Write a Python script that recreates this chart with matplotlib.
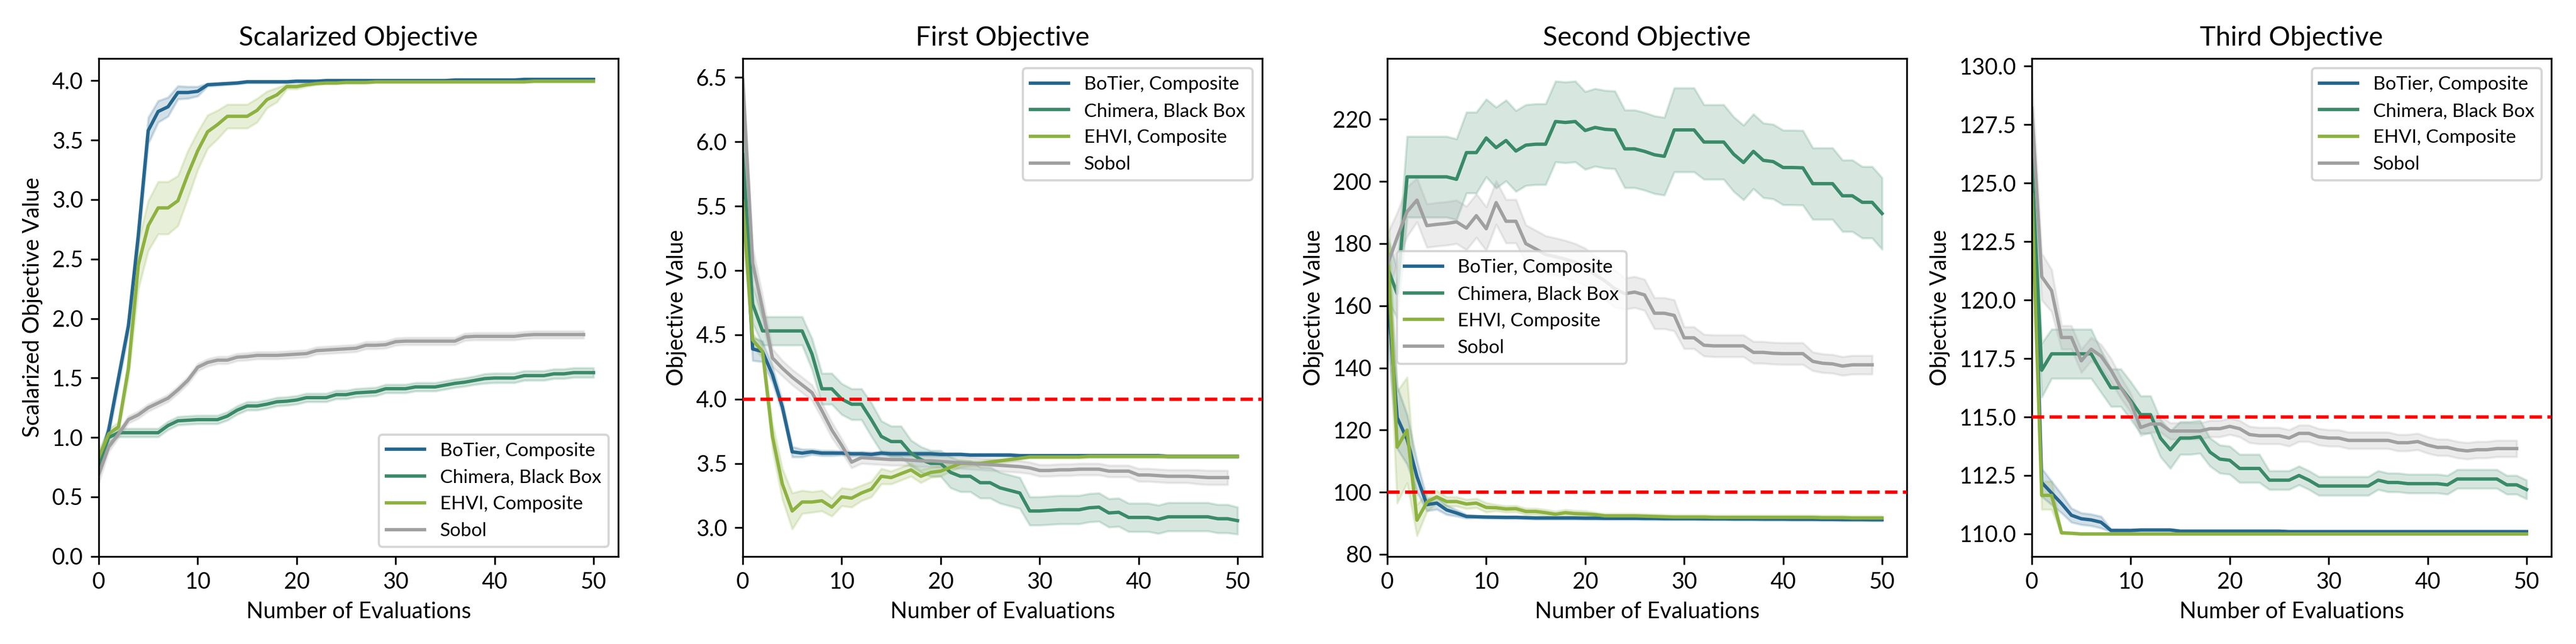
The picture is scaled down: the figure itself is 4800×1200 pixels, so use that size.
import numpy as np
import matplotlib
matplotlib.use("Agg")
import matplotlib.pyplot as plt

plt.rcParams['font.family'] = ['Lato', 'DejaVu Sans']

# method names and colours
methods = ['BoTier, Composite', 'Chimera, Black Box', 'EHVI, Composite', 'Sobol']
colors = ['#25668f', '#3a8a68', '#8db241', '#a0a0a0']

titles = ['Scalarized Objective', 'First Objective', 'Second Objective', 'Third Objective']
ylabels = ['Scalarized Objective Value', 'Objective Value', 'Objective Value', 'Objective Value']
thresholds = [None, 4.0, 100, 115]

# ---- scalarized objective ----
botier_scal = [0.77, 1.06, 1.50, 1.94, 2.70, 3.58, 3.74, 3.78, 3.90, 3.90,
               3.91, 3.965, 3.97, 3.975, 3.98, 3.99, 3.99, 3.99, 3.99, 3.99,
               3.995, 3.995, 3.995, 4.0, 4.0, 4.0, 4.0, 4.0, 4.0, 4.0,
               4.0, 4.0, 4.0, 4.0, 4.0, 4.0, 4.005, 4.005, 4.005, 4.005,
               4.005, 4.005, 4.005, 4.01, 4.01, 4.01, 4.01, 4.01, 4.01, 4.01,
               4.01]
botier_scal_err = [0.07, 0.05, 0.06, 0.06, 0.08, 0.11, 0.09, 0.08, 0.055, 0.05,
                   0.04, 0.012, 0.012, 0.01, 0.01, 0.01, 0.01, 0.01, 0.01, 0.01,
                   0.008, 0.008, 0.008, 0.008, 0.008, 0.008, 0.008, 0.008, 0.008, 0.008,
                   0.008, 0.008, 0.008, 0.008, 0.008, 0.008, 0.008, 0.008, 0.008, 0.008,
                   0.008, 0.008, 0.008, 0.008, 0.008, 0.008, 0.008, 0.008, 0.008, 0.008,
                   0.008]
chimera_scal = [0.77, 1.00, 1.04, 1.04, 1.04, 1.04, 1.04, 1.10, 1.14, 1.145,
                1.15, 1.15, 1.15, 1.18, 1.23, 1.265, 1.265, 1.28, 1.30, 1.305,
                1.315, 1.335, 1.335, 1.335, 1.36, 1.36, 1.375, 1.38, 1.385, 1.41,
                1.41, 1.41, 1.425, 1.425, 1.425, 1.44, 1.455, 1.465, 1.48, 1.495,
                1.50, 1.50, 1.50, 1.52, 1.52, 1.52, 1.535, 1.535, 1.545, 1.545,
                1.545]
chimera_scal_err = [0.06, 0.04, 0.035, 0.035, 0.035, 0.035, 0.035, 0.035, 0.035, 0.035,
                    0.035, 0.035, 0.035, 0.035, 0.035, 0.035, 0.035, 0.035, 0.035, 0.035,
                    0.035, 0.035, 0.035, 0.035, 0.035, 0.035, 0.035, 0.035, 0.035, 0.035,
                    0.035, 0.035, 0.035, 0.035, 0.035, 0.035, 0.035, 0.035, 0.035, 0.04,
                    0.04, 0.04, 0.04, 0.04, 0.04, 0.04, 0.04, 0.04, 0.04, 0.04,
                    0.04]
ehvi_scal = [0.83, 1.03, 1.09, 1.58, 2.45, 2.78, 2.93, 2.93, 2.99, 3.21,
             3.41, 3.57, 3.63, 3.70, 3.70, 3.70, 3.75, 3.84, 3.88, 3.95,
             3.95, 3.965, 3.975, 3.98, 3.98, 3.985, 3.985, 3.985, 3.99, 3.99,
             3.99, 3.99, 3.99, 3.99, 3.99, 3.99, 3.99, 3.99, 3.99, 3.99,
             3.99, 3.99, 3.99, 3.99, 3.995, 3.995, 3.995, 3.995, 3.995, 3.995,
             3.995]
ehvi_scal_err = [0.06, 0.04, 0.04, 0.08, 0.20, 0.21, 0.22, 0.22, 0.21, 0.20,
                 0.16, 0.14, 0.12, 0.10, 0.10, 0.10, 0.10, 0.07, 0.06, 0.02,
                 0.02, 0.015, 0.01, 0.01, 0.01, 0.01, 0.01, 0.01, 0.008, 0.008,
                 0.008, 0.008, 0.008, 0.008, 0.008, 0.008, 0.008, 0.008, 0.008, 0.008,
                 0.008, 0.008, 0.008, 0.008, 0.008, 0.008, 0.008, 0.008, 0.008, 0.008,
                 0.008]
sobol_scal = [0.69, 0.92, 1.03, 1.15, 1.19, 1.25, 1.29, 1.33, 1.40, 1.48,
              1.59, 1.63, 1.65, 1.65, 1.675, 1.68, 1.69, 1.69, 1.69, 1.695,
              1.70, 1.705, 1.73, 1.735, 1.74, 1.745, 1.75, 1.775, 1.775, 1.78,
              1.805, 1.81, 1.81, 1.81, 1.81, 1.81, 1.81, 1.845, 1.85, 1.85,
              1.85, 1.85, 1.85, 1.86, 1.865, 1.865, 1.865, 1.865, 1.865, 1.865]
sobol_scal_err = [0.07, 0.04, 0.03, 0.03, 0.03, 0.03, 0.03, 0.03, 0.03, 0.03,
                  0.03, 0.03, 0.03, 0.03, 0.03, 0.03, 0.03, 0.03, 0.03, 0.03,
                  0.03, 0.03, 0.03, 0.03, 0.03, 0.03, 0.03, 0.03, 0.03, 0.03,
                  0.03, 0.03, 0.03, 0.03, 0.03, 0.03, 0.03, 0.03, 0.03, 0.03,
                  0.03, 0.03, 0.03, 0.03, 0.03, 0.03, 0.03, 0.03, 0.03, 0.03]

# ---- first objective ----
botier_f1 = [5.80, 4.39, 4.37, 4.19, 3.94, 3.59, 3.58, 3.59, 3.58, 3.58,
             3.58, 3.575, 3.575, 3.57, 3.58, 3.575, 3.575, 3.575, 3.575, 3.575,
             3.57, 3.57, 3.57, 3.565, 3.565, 3.565, 3.565, 3.565, 3.56, 3.56,
             3.56, 3.56, 3.56, 3.56, 3.56, 3.56, 3.56, 3.56, 3.56, 3.56,
             3.56, 3.56, 3.56, 3.555, 3.555, 3.555, 3.555, 3.555, 3.555, 3.555,
             3.555]
botier_f1_err = [0.30, 0.09, 0.08, 0.06, 0.05, 0.04, 0.03, 0.02, 0.02, 0.02,
                 0.015, 0.015, 0.015, 0.015, 0.015, 0.015, 0.015, 0.015, 0.015, 0.015,
                 0.01, 0.01, 0.01, 0.01, 0.01, 0.01, 0.01, 0.01, 0.01, 0.01,
                 0.01, 0.01, 0.01, 0.01, 0.01, 0.01, 0.01, 0.01, 0.01, 0.01,
                 0.01, 0.01, 0.01, 0.01, 0.01, 0.01, 0.01, 0.01, 0.01, 0.01,
                 0.01]
chimera_f1 = [5.90, 4.74, 4.53, 4.53, 4.53, 4.53, 4.53, 4.35, 4.08, 4.08,
              4.00, 3.96, 3.96, 3.84, 3.71, 3.67, 3.67, 3.58, 3.53, 3.50,
              3.50, 3.43, 3.40, 3.40, 3.35, 3.35, 3.31, 3.29, 3.27, 3.13,
              3.13, 3.135, 3.14, 3.14, 3.14, 3.155, 3.16, 3.115, 3.12, 3.08,
              3.08, 3.08, 3.065, 3.085, 3.085, 3.085, 3.085, 3.085, 3.07, 3.07,
              3.055]
chimera_f1_err = [0.25, 0.15, 0.11, 0.11, 0.11, 0.11, 0.11, 0.12, 0.12, 0.12,
                  0.12, 0.12, 0.12, 0.13, 0.12, 0.12, 0.12, 0.10, 0.10, 0.10,
                  0.10, 0.12, 0.12, 0.12, 0.12, 0.12, 0.12, 0.12, 0.12, 0.11,
                  0.11, 0.11, 0.11, 0.11, 0.11, 0.11, 0.11, 0.11, 0.11, 0.11,
                  0.11, 0.11, 0.11, 0.11, 0.11, 0.11, 0.11, 0.11, 0.11, 0.11,
                  0.105]
ehvi_f1 = [5.54, 4.46, 4.37, 3.71, 3.34, 3.13, 3.20, 3.20, 3.21, 3.16,
           3.24, 3.23, 3.27, 3.30, 3.40, 3.39, 3.42, 3.45, 3.40, 3.43,
           3.44, 3.47, 3.50, 3.50, 3.50, 3.51, 3.52, 3.53, 3.54, 3.55,
           3.55, 3.55, 3.55, 3.55, 3.55, 3.555, 3.555, 3.555, 3.555, 3.555,
           3.555, 3.555, 3.555, 3.555, 3.555, 3.555, 3.555, 3.555, 3.555, 3.555,
           3.555]
ehvi_f1_err = [0.25, 0.05, 0.05, 0.10, 0.12, 0.14, 0.09, 0.08, 0.08, 0.07,
               0.07, 0.07, 0.06, 0.06, 0.06, 0.05, 0.05, 0.05, 0.05, 0.04,
               0.04, 0.03, 0.03, 0.02, 0.02, 0.02, 0.015, 0.015, 0.01, 0.01,
               0.01, 0.01, 0.01, 0.01, 0.01, 0.01, 0.01, 0.01, 0.01, 0.01,
               0.01, 0.01, 0.01, 0.01, 0.01, 0.01, 0.01, 0.01, 0.01, 0.01,
               0.01]
sobol_f1 = [6.48, 5.06, 4.70, 4.32, 4.24, 4.17, 4.11, 4.05, 3.91, 3.76,
            3.64, 3.51, 3.545, 3.54, 3.535, 3.53, 3.53, 3.525, 3.52, 3.52,
            3.515, 3.51, 3.505, 3.50, 3.495, 3.49, 3.485, 3.48, 3.475, 3.465,
            3.445, 3.445, 3.45, 3.45, 3.455, 3.455, 3.455, 3.44, 3.44, 3.44,
            3.41, 3.41, 3.405, 3.40, 3.40, 3.40, 3.395, 3.39, 3.39, 3.39]
sobol_f1_err = [0.15, 0.12, 0.10, 0.07, 0.06, 0.06, 0.06, 0.06, 0.06, 0.06,
                0.05, 0.045, 0.045, 0.045, 0.045, 0.045, 0.045, 0.045, 0.045, 0.045,
                0.045, 0.045, 0.045, 0.045, 0.045, 0.045, 0.045, 0.045, 0.045, 0.045,
                0.045, 0.045, 0.045, 0.045, 0.045, 0.045, 0.045, 0.045, 0.045, 0.045,
                0.05, 0.05, 0.05, 0.05, 0.05, 0.05, 0.055, 0.055, 0.055, 0.055]

# ---- second objective ----
botier_f2 = [165.0, 124.0, 117.0, 105.0, 96.0, 96.5, 94.3, 93.3, 92.2, 92.1,
             92.0, 91.95, 91.9, 91.9, 91.8, 91.7, 91.7, 91.7, 91.7, 91.7,
             91.65, 91.65, 91.6, 91.6, 91.6, 91.6, 91.55, 91.55, 91.5, 91.5,
             91.5, 91.5, 91.45, 91.45, 91.45, 91.4, 91.4, 91.4, 91.35, 91.35,
             91.35, 91.3, 91.3, 91.3, 91.25, 91.25, 91.2, 91.2, 91.2, 91.15,
             91.15]
botier_f2_err = [15.0, 10.0, 8.0, 5.0, 2.0, 2.0, 1.5, 1.0, 0.6, 0.4,
                 0.4, 0.4, 0.4, 0.4, 0.4, 0.4, 0.4, 0.4, 0.4, 0.4,
                 0.4, 0.4, 0.4, 0.4, 0.4, 0.4, 0.4, 0.4, 0.4, 0.4,
                 0.4, 0.4, 0.4, 0.4, 0.4, 0.4, 0.4, 0.4, 0.4, 0.4,
                 0.4, 0.4, 0.4, 0.4, 0.4, 0.4, 0.4, 0.4, 0.4, 0.4,
                 0.4]
chimera_f2 = [172.4, 163.9, 201.5, 201.5, 201.5, 201.5, 201.5, 200.7, 209.3, 209.3,
              214.0, 210.9, 213.2, 209.8, 211.7, 212.0, 212.0, 219.3, 219.0, 219.3,
              216.4, 217.4, 216.8, 216.6, 210.5, 210.5, 209.7, 208.6, 208.1, 216.6,
              216.6, 216.6, 212.7, 212.7, 212.7, 208.8, 206.1, 209.7, 206.8, 206.4,
              204.5, 204.5, 204.4, 199.3, 199.3, 199.3, 195.4, 195.4, 193.3, 193.3,
              189.7]
chimera_f2_err = [10.0, 8.0, 13.0, 13.0, 13.0, 13.0, 13.0, 13.0, 13.0, 13.0,
                  12.5, 13.0, 13.0, 13.0, 13.0, 13.0, 13.0, 13.0, 13.0, 13.0,
                  12.5, 12.5, 12.5, 12.5, 12.5, 12.5, 12.5, 12.5, 12.5, 13.5,
                  13.5, 13.5, 12.0, 12.0, 12.0, 12.0, 12.0, 12.0, 12.0, 12.0,
                  12.0, 12.0, 12.0, 11.5, 11.5, 11.5, 11.5, 11.5, 11.5, 11.5,
                  11.5]
ehvi_f2 = [180.0, 114.5, 120.0, 91.0, 96.8, 98.5, 97.0, 97.0, 96.2, 96.5,
           95.1, 95.0, 94.6, 94.7, 93.8, 93.8, 93.4, 92.9, 93.4, 93.1,
           93.0, 92.8, 92.4, 92.4, 92.4, 92.4, 92.3, 92.2, 92.1, 92.0,
           92.0, 92.0, 92.0, 91.9, 91.9, 91.9, 91.9, 91.9, 91.9, 91.9,
           91.9, 91.9, 91.9, 91.9, 91.8, 91.8, 91.8, 91.7, 91.7, 91.7,
           91.7]
ehvi_f2_err = [15.0, 18.0, 17.0, 5.0, 3.0, 2.0, 1.5, 1.5, 1.5, 1.5,
               1.5, 1.0, 1.0, 1.0, 1.0, 1.0, 1.0, 1.0, 1.0, 1.0,
               1.0, 0.7, 0.7, 0.7, 0.7, 0.7, 0.7, 0.7, 0.7, 0.7,
               0.7, 0.7, 0.7, 0.7, 0.7, 0.7, 0.7, 0.7, 0.7, 0.7,
               0.7, 0.7, 0.7, 0.7, 0.7, 0.7, 0.7, 0.7, 0.7, 0.7,
               0.7]
sobol_f2 = [173.1, 182.0, 190.3, 194.0, 185.8, 186.2, 186.5, 187.0, 185.0, 189.0,
            184.8, 193.2, 187.2, 187.2, 180.0, 178.3, 176.5, 175.8, 175.0, 174.0,
            172.5, 170.0, 168.0, 165.5, 163.9, 164.4, 163.5, 157.6, 157.6, 156.9,
            149.7, 149.7, 147.3, 147.1, 147.1, 147.1, 147.1, 145.0, 145.0, 144.7,
            144.6, 144.6, 144.6, 142.1, 141.5, 141.3, 140.6, 141.0, 141.0, 141.0]
sobol_f2_err = [10.0, 8.0, 8.0, 7.0, 7.0, 7.0, 7.0, 7.0, 7.0, 7.0,
                7.0, 7.0, 7.0, 7.0, 6.0, 6.0, 6.0, 6.0, 6.0, 6.0,
                6.0, 6.0, 6.0, 6.0, 5.0, 5.0, 5.0, 5.0, 5.0, 5.0,
                3.5, 3.5, 3.5, 3.5, 3.5, 3.5, 3.5, 3.5, 3.5, 3.5,
                3.5, 3.5, 3.5, 3.0, 3.0, 3.0, 3.0, 3.0, 3.0, 3.0]

# ---- third objective ----
botier_f3 = [126.0, 112.2, 111.75, 111.3, 110.8, 110.65, 110.6, 110.5, 110.15, 110.15,
             110.15, 110.17, 110.17, 110.17, 110.17, 110.12, 110.12, 110.12, 110.12, 110.12,
             110.12, 110.12, 110.12, 110.12, 110.12, 110.12, 110.1, 110.1, 110.1, 110.1,
             110.1, 110.1, 110.1, 110.1, 110.1, 110.1, 110.1, 110.1, 110.1, 110.1,
             110.1, 110.1, 110.1, 110.1, 110.1, 110.1, 110.1, 110.1, 110.1, 110.1,
             110.1]
botier_f3_err = [1.3, 0.6, 0.5, 0.4, 0.3, 0.25, 0.25, 0.25, 0.05, 0.04,
                 0.03, 0.03, 0.03, 0.03, 0.03, 0.03, 0.03, 0.03, 0.03, 0.03,
                 0.03, 0.03, 0.03, 0.03, 0.03, 0.03, 0.03, 0.03, 0.03, 0.03,
                 0.03, 0.03, 0.03, 0.03, 0.03, 0.03, 0.03, 0.03, 0.03, 0.03,
                 0.03, 0.03, 0.03, 0.03, 0.03, 0.03, 0.03, 0.03, 0.03, 0.03,
                 0.03]
chimera_f3 = [126.0, 117.0, 117.7, 117.7, 117.7, 117.7, 117.7, 116.95, 116.25, 116.25,
              115.7, 115.1, 115.1, 114.1, 113.6, 114.1, 114.1, 114.15, 113.5, 113.2,
              113.15, 112.8, 112.8, 112.8, 112.3, 112.3, 112.3, 112.5, 112.3, 112.05,
              112.05, 112.05, 112.05, 112.05, 112.05, 112.3, 112.2, 112.2, 112.15, 112.15,
              112.15, 112.15, 112.1, 112.35, 112.35, 112.35, 112.35, 112.35, 112.1, 112.1,
              111.9]
chimera_f3_err = [1.5, 1.15, 1.05, 1.05, 1.05, 1.05, 1.05, 0.9, 0.8, 0.8,
                  0.8, 0.8, 0.8, 0.8, 0.8, 0.7, 0.7, 0.7, 0.6, 0.6,
                  0.6, 0.6, 0.6, 0.6, 0.4, 0.4, 0.4, 0.4, 0.4, 0.4,
                  0.4, 0.4, 0.4, 0.4, 0.4, 0.4, 0.4, 0.4, 0.4, 0.4,
                  0.4, 0.4, 0.4, 0.4, 0.4, 0.4, 0.4, 0.4, 0.4, 0.4,
                  0.4]
ehvi_f3 = [124.5, 111.65, 111.65, 110.05, 110.03, 110.0, 110.0, 110.0, 110.0, 110.0,
           110.0, 110.0, 110.0, 110.0, 110.0, 110.0, 110.0, 110.0, 110.0, 110.0,
           110.0, 110.0, 110.0, 110.0, 110.0, 110.0, 110.0, 110.0, 110.0, 110.0,
           110.0, 110.0, 110.0, 110.0, 110.0, 110.0, 110.0, 110.0, 110.0, 110.0,
           110.0, 110.0, 110.0, 110.0, 110.0, 110.0, 110.0, 110.0, 110.0, 110.0,
           110.0]
ehvi_f3_err = [1.5, 0.6, 0.6, 0.05, 0.03, 0.02, 0.02, 0.02, 0.02, 0.02,
               0.02, 0.02, 0.02, 0.02, 0.02, 0.02, 0.02, 0.02, 0.02, 0.02,
               0.02, 0.02, 0.02, 0.02, 0.02, 0.02, 0.02, 0.02, 0.02, 0.02,
               0.02, 0.02, 0.02, 0.02, 0.02, 0.02, 0.02, 0.02, 0.02, 0.02,
               0.02, 0.02, 0.02, 0.02, 0.02, 0.02, 0.02, 0.02, 0.02, 0.02,
               0.02]
sobol_f3 = [128.2, 121.0, 120.4, 118.4, 118.4, 117.4, 117.9, 117.6, 117.0, 116.25,
            115.6, 114.55, 114.7, 114.7, 114.4, 114.4, 114.4, 114.4, 114.5, 114.5,
            114.6, 114.5, 114.25, 114.2, 114.2, 114.2, 114.1, 114.3, 114.3, 114.15,
            114.1, 114.1, 114.0, 114.0, 114.0, 114.0, 114.0, 113.9, 113.9, 113.95,
            113.8, 113.7, 113.7, 113.6, 113.55, 113.6, 113.6, 113.65, 113.65, 113.65]
sobol_f3_err = [1.3, 1.0, 0.9, 0.5, 0.5, 0.5, 0.5, 0.5, 0.5, 0.45,
                0.4, 0.35, 0.35, 0.35, 0.35, 0.35, 0.35, 0.35, 0.35, 0.35,
                0.35, 0.35, 0.35, 0.35, 0.35, 0.35, 0.35, 0.35, 0.35, 0.35,
                0.35, 0.35, 0.35, 0.35, 0.35, 0.35, 0.35, 0.35, 0.35, 0.35,
                0.35, 0.35, 0.35, 0.35, 0.35, 0.35, 0.35, 0.35, 0.35, 0.35]

panels = [
    [(botier_scal, botier_scal_err), (chimera_scal, chimera_scal_err), (ehvi_scal, ehvi_scal_err), (sobol_scal, sobol_scal_err)],
    [(botier_f1, botier_f1_err), (chimera_f1, chimera_f1_err), (ehvi_f1, ehvi_f1_err), (sobol_f1, sobol_f1_err)],
    [(botier_f2, botier_f2_err), (chimera_f2, chimera_f2_err), (ehvi_f2, ehvi_f2_err), (sobol_f2, sobol_f2_err)],
    [(botier_f3, botier_f3_err), (chimera_f3, chimera_f3_err), (ehvi_f3, ehvi_f3_err), (sobol_f3, sobol_f3_err)],
]
ylims = [(0, 4.185), (2.777, 6.647), (79.34, 239.55), (109.04, 130.32)]
legend_locs = ['lower right', 'upper right', 'center left', 'upper right']

fig = plt.figure(figsize=(16, 4), dpi=300)
lefts = [184, 1384, 2585, 3786]

for i in range(4):
    ax = fig.add_axes([lefts[i] / 4800, 0.136, 968 / 4800, 0.773])
    for j, (mean, err) in enumerate(panels[i]):
        mean = np.array(mean)
        err = np.array(err)
        x = np.arange(len(mean))
        ax.plot(x, mean, color=colors[j], lw=1.5, label=methods[j])
        ax.fill_between(x, mean - err, mean + err, color=colors[j], alpha=0.2)
    if thresholds[i] is not None:
        ax.axhline(thresholds[i], color='red', ls='--', lw=1.5, zorder=5)
    ax.set_xlim(0, 52.5)
    ax.set_ylim(*ylims[i])
    ax.set_title(titles[i], fontsize=12)
    ax.set_xlabel('Number of Evaluations', fontsize=10)
    ax.set_ylabel(ylabels[i], fontsize=10)
    ax.tick_params(labelsize=10)
    ax.legend(loc=legend_locs[i], fontsize=8.5)

fig.savefig('out.png', dpi=300)
